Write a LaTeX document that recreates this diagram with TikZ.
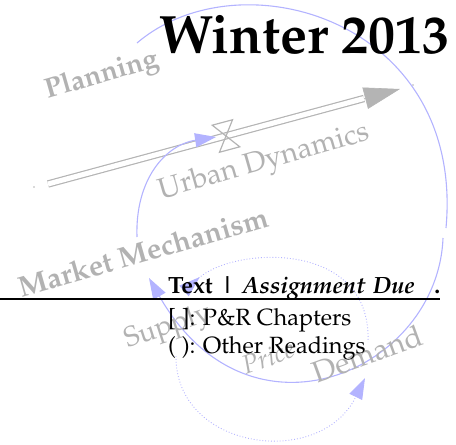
\documentclass[tikz,border=0pt]{standalone}
\usepackage[T1]{fontenc}
\usepackage{mathpazo}
\usepackage{tikz}
\usetikzlibrary{arrows.meta, calc}
\definecolor{loopblue}{RGB}{179,179,255}
\definecolor{labelgray}{RGB}{178,178,178}
\definecolor{pipegray}{RGB}{180,180,180}
\tikzset{
  loopline/.style={draw=loopblue, line width=1.1pt},
  infoline/.style={draw=loopblue, line width=0.9pt, dotted},
  looptip/.style={-{Triangle[length=21pt, width=14pt]}},
  pipe/.style={draw=pipegray, line width=1.2pt, double=white, double distance=5pt},
  pipetip/.style={draw=pipegray, fill=pipegray, line width=0.6pt, -{Triangle[length=36pt, width=22pt]}},
  valveline/.style={draw=pipegray, line width=1.2pt, line join=miter},
  clouddot/.style={circle, fill=pipegray, inner sep=0pt, minimum size=1.8pt},
  sectorlabel/.style={text=labelgray, inner sep=0pt},
  titletext/.style={font=\fontsize{54}{60}\selectfont\bfseries, inner sep=0pt},
  infotext/.style={font=\fontsize{23.5}{28}\selectfont, inner sep=0pt, align=left},
  headrule/.style={draw=black, line width=1.6pt}
}

\begin{document}
\begin{tikzpicture}[x=1pt, y=-1pt]
  \useasboundingbox (0,0) rectangle (456,445);

  % stock and flow
  \coordinate (source) at (48,184);
  \coordinate (pipeend) at (364,98.5);
  \coordinate (sink) at (400,89);
  \coordinate (valve) at (226,136);
  \node[clouddot] (srccloud) at (34,187) {};
  \node[clouddot] (sinkcloud) at (413,85) {};
  \draw[pipe] (source) -- (pipeend);
  \draw[pipetip] (pipeend) -- (sink);
  \draw[valveline, shift={(valve)}, rotate=15]
    (-10.5,-14) -- (10.5,-14) -- (-10.5,14) -- (10.5,14) -- cycle;

  % loops
  \coordinate (planstart) at (137,43);
  \coordinate (planend) at (446,228);
  \coordinate (demstart) at (443,238);
  \coordinate (demend) at (149,278);
  \coordinate (mktstart) at (137,237);
  \coordinate (mktend) at (216,137);
  \draw[loopline] (planstart) .. controls (240,-45) and (465,20) .. (planend);
  \draw[loopline, looptip] (demstart) .. controls (438,370) and (250,455) .. (demend);
  \draw[loopline, looptip] (mktstart) .. controls (135,180) and (165,145) .. (mktend);

  \coordinate (supstart) at (184,291);
  \coordinate (supend) at (368,342);
  \coordinate (pricestart) at (176,356);
  \coordinate (priceend) at (365,378);
  \draw[infoline, {Triangle[reversed, length=21pt, width=14pt]}-] (supstart) .. controls (235,246) and (372,240) .. (supend);
  \draw[infoline, looptip] (pricestart) .. controls (175,450) and (320,470) .. (priceend);

  % labels
  \node[sectorlabel, font=\fontsize{28}{32}\selectfont\bfseries, rotate=16] (planning) at (102,76) {Planning};
  \node[sectorlabel, font=\fontsize{29}{34}\selectfont, rotate=16] (urban) at (264,163) {Urban Dynamics};
  \node[sectorlabel, font=\fontsize{29}{34}\selectfont\bfseries, rotate=16] (market) at (143,252) {Market Mechanism};
  \node[sectorlabel, font=\fontsize{28}{32}\selectfont, rotate=18] (supply) at (168,328) {Supply};
  \node[sectorlabel, font=\fontsize{26}{30}\selectfont\itshape, rotate=20] (price) at (268,357) {Price};
  \node[sectorlabel, font=\fontsize{30}{34}\selectfont, rotate=20] (demand) at (367,354) {Demand};

  % title and reading list
  \node[titletext, anchor=base east] (title) at (450,53) {Winter 2013};
  \coordinate (ruleleft) at (0,299);
  \coordinate (ruleright) at (440,299);
  \node[infotext, anchor=base west, text width=272pt] (header) at (168,293)
    {\textbf{Text | \textit{Assignment Due}}\hfill\textbf{.}};
  \draw[headrule] (ruleleft) -- (ruleright);
  \node[infotext, anchor=base west] (pnr) at (168,325) {[ ]: P\&R Chapters};
  \node[infotext, anchor=base west] (other) at (168,353) {( ): Other Readings};
\end{tikzpicture}
\end{document}
